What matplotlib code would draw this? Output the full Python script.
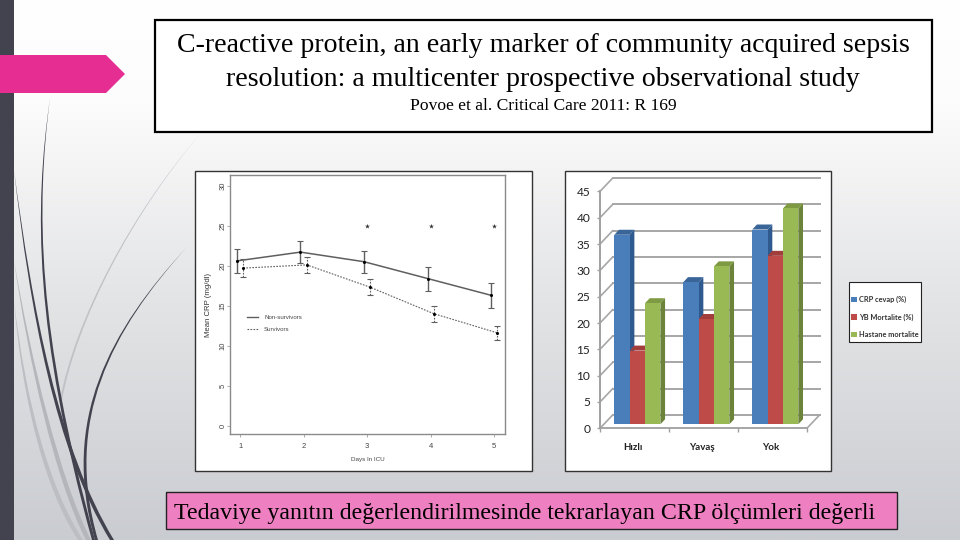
import numpy as np
import matplotlib
matplotlib.use('Agg')
import matplotlib.pyplot as plt
from matplotlib.patches import Rectangle, Polygon, PathPatch
from matplotlib.path import Path
from matplotlib.lines import Line2D

# line chart data
dias = [1, 2, 3, 4, 5]
non_survivors = [20.6, 21.7, 20.5, 18.4, 16.3]
non_survivors_err = [1.5, 1.4, 1.4, 1.5, 1.6]
survivors = [19.7, 20.1, 17.3, 14.0, 11.6]
survivors_err = [1.1, 1.0, 1.0, 1.0, 0.85]
star_days = [3, 4, 5]
star_level = [25, 25, 25]
crp_ticks = [0, 5, 10, 15, 20, 25, 30]

# bar chart data
grupos = ['Hızlı', 'Yavaş', 'Yok']
crp_cevap = [36, 27, 37]
yb_mortalite = [14, 20, 32]
hastane_mortalite = [23, 30, 41]
bar_ticks = [0, 5, 10, 15, 20, 25, 30, 35, 40, 45]

titulo = ['C-reactive protein, an early marker of community acquired sepsis',
          'resolution: a multicenter prospective observational study']
cita = 'Povoe et al. Critical Care 2011: R 169'
pie = 'Tedaviye yanıtın değerlendirilmesinde tekrarlayan CRP ölçümleri değerli'

W, H = 960, 540
SERIF = 'Liberation Serif'
SANS = 'Liberation Sans'
DARK = '#42434f'


def box(x0, y0, x1, y1):
    # pixel box (top-left origin) to figure fractions
    return [x0 / W, 1 - y1 / H, (x1 - x0) / W, (y1 - y0) / H]


def curva(ax, p0, c1, c2, p1, ancho, color):
    # tapered stroke: thin at p0, wider at p1
    verts = [p0, c1, c2, p1,
             (p1[0] + ancho, p1[1]), (c2[0] + ancho, c2[1]), (c1[0] + ancho * 0.6, c1[1]), p0, p0]
    codes = [Path.MOVETO, Path.CURVE4, Path.CURVE4, Path.CURVE4, Path.LINETO,
             Path.CURVE4, Path.CURVE4, Path.CURVE4, Path.CLOSEPOLY]
    ax.add_patch(PathPatch(Path(verts, codes), fc=color, ec='none', zorder=2))


fig = plt.figure(figsize=(9.6, 5.4), dpi=100)

# slide background
fondo = fig.add_axes([0, 0, 1, 1], zorder=0)
fondo.axis('off')
filas = np.linspace(0, H, 256)
degradado = np.stack([np.interp(filas, [0, 100, 200, 300, 540], [1.0, 0.99, 0.94, 0.89, 0.79]),
                      np.interp(filas, [0, 100, 200, 300, 540], [1.0, 0.99, 0.94, 0.895, 0.80]),
                      np.interp(filas, [0, 100, 200, 300, 540], [1.0, 0.99, 0.945, 0.90, 0.82])], axis=1)
fondo.imshow(degradado[:, None, :], extent=[0, W, H, 0], aspect='auto', zorder=0)
fondo.set_xlim(0, W)
fondo.set_ylim(H, 0)

curva(fondo, (14, 260), (28, 360), (55, 480), (86, 540), 5, '#b4b6bb')
curva(fondo, (14, 300), (22, 400), (45, 490), (78, 540), 5, '#bcbec3')
curva(fondo, (201, 133), (130, 215), (75, 320), (60, 400), 2, '#c0c2c6')
curva(fondo, (50, 98), (34, 210), (34, 330), (92, 540), 3, DARK)
curva(fondo, (14, 170), (30, 310), (55, 450), (110, 540), 4, DARK)
curva(fondo, (187, 247), (110, 330), (60, 420), (95, 540), 3, DARK)
fondo.add_patch(Rectangle((0, 0), 14, H, fc=DARK, ec='none', zorder=3))
fondo.add_patch(Polygon([(0, 55), (106, 55), (125, 74), (106, 93), (0, 93)], fc='#e52d92', ec='none', zorder=4))

# title box
fondo.add_patch(Rectangle((155, 20), 777, 112, fc='white', ec='black', lw=1.6, zorder=4))
fondo.text(543, 46, titulo[0], family=SERIF, fontsize=20.1, ha='center', va='center', color='black', zorder=5)
fondo.text(543, 80, titulo[1], family=SERIF, fontsize=20.1, ha='center', va='center', color='black', zorder=5)
fondo.text(543, 106, cita, family=SERIF, fontsize=12.6, ha='center', va='center', color='black', zorder=5)

# bottom box
fondo.add_patch(Rectangle((166, 492), 731, 37, fc='#ee80c2', ec='#222222', lw=1, zorder=4))
fondo.text(174, 513, pie, family=SERIF, fontsize=17.2, ha='left', va='center', color='black', zorder=5)

# frames of the two pictures and of the bar legend
fondo.add_patch(Rectangle((195, 171), 337, 300, fc='white', ec='#333333', lw=1, zorder=4))
fondo.add_patch(Rectangle((565, 171), 266, 300, fc='white', ec='#333333', lw=1, zorder=4))
fondo.add_patch(Rectangle((849, 282), 72, 60, fc='white', ec='#222222', lw=0.8, zorder=4))

# line chart
ax = fig.add_axes(box(230, 175, 505, 434), zorder=2)
ax.set_xlim(0.84, 5.17)
ax.set_ylim(-1.04, 31.34)
gris = '#5f5f5f'
x_non = np.array(dias) - 0.05
x_sur = np.array(dias) + 0.05
ax.errorbar(x_non, non_survivors, yerr=non_survivors_err, color=gris, lw=1.1, elinewidth=1.0,
            capsize=2.4, capthick=0.8, marker='o', ms=1.2, mfc='black', mec='black')
e = ax.errorbar(x_sur, survivors, yerr=survivors_err, color=gris, lw=0.8, ls=(0, (1.5, 1.2)), elinewidth=0.8,
                capsize=2.4, capthick=0.8, marker='o', ms=1.2, mfc='black', mec='black')
e[2][0].set_linestyle((0, (1.5, 1.2)))
ax.scatter(star_days, star_level, marker='*', s=14, color='#333333', lw=0)
for lado in ax.spines.values():
    lado.set_color('#8a8a8a')
    lado.set_linewidth(1.0)
ax.set_xticks(dias)
ax.set_yticks(crp_ticks)
ax.tick_params(axis='x', length=2, width=0.5, color='#888888', labelsize=5.5, labelcolor='#444444', pad=4.5)
ax.tick_params(axis='y', length=2, width=0.5, color='#888888', labelsize=5.5, labelcolor='#444444', pad=0.5, labelrotation=90)
for t in ax.get_yticklabels():
    t.set_va('center')
    t.set_family(SANS)
for t in ax.get_xticklabels():
    t.set_family(SANS)
ax.set_xlabel('Days In ICU', family=SANS, fontsize=4.5, color='#444444')
ax.xaxis.set_label_coords((368 - 230) / 275, -23 / 259)
ax.set_ylabel('Mean CRP (mg/dl)', family=SANS, fontsize=5.6, color='#333333')
ax.yaxis.set_label_coords((212 - 230) / 275, (434 - 305) / 259)
handles = [Line2D([], [], color=gris, lw=1.0), Line2D([], [], color=gris, lw=0.8, ls=(0, (1.5, 1.2)))]
ax.legend(handles, ['Non-survivors', 'Survivors'], frameon=False, prop={'family': SANS, 'size': 4.4},
          labelcolor='#444444', loc='upper left', bbox_to_anchor=((247 - 230) / 275, (434 - 315) / 259),
          handlelength=1.8, handletextpad=1.0, labelspacing=1.0, borderpad=0, borderaxespad=0)

# 3D style bar chart, y=0 sits on the front axis line
bx = fig.add_axes(box(600, 177.7, 820, 428.3), zorder=2)
bx.set_xlim(0, 3.19)
bx.set_ylim(0, 47.6)
bx.patch.set_alpha(0)
for lado in ['top', 'right', 'bottom']:
    bx.spines[lado].set_visible(False)
bx.spines['left'].set_color('#a0a0a0')
bx.spines['left'].set_linewidth(1.4)
bx.spines['left'].set_bounds(0, 45)

DX, DY = 0.184, 2.53     # depth of the chart floor
dx, dy = 0.068, 0.95     # depth of one bar
LIFT = 0.76              # bars stand a little behind the front axis
ancho = 0.2225
inicio = 0.208
linea = '#a6a6a6'

for v in bar_ticks:
    bx.plot([0, DX], [v, v + DY], color=linea, lw=1.2, clip_on=False, zorder=1)
    bx.plot([DX, 3.19], [v + DY, v + DY], color=linea, lw=1.4, clip_on=False, zorder=1)
bx.plot([0, 3], [0, 0], color=linea, lw=1.4, clip_on=False, zorder=1)
bx.plot([3, 3 + DX], [0, DY], color=linea, lw=1.2, clip_on=False, zorder=1)

series = [(crp_cevap, '#4a7ebb', '#2f5a90', '#3a6598'),
          (yb_mortalite, '#be4b48', '#8f3533', '#a13e3b'),
          (hastane_mortalite, '#98b954', '#6b8439', '#7e9a43')]
posiciones = np.arange(len(grupos))
for k, (valores, frente, lateral, tapa) in enumerate(series):
    xs = posiciones + inicio + k * ancho
    bx.bar(xs, valores, width=ancho, bottom=LIFT, align='edge', color=frente, lw=0, zorder=3 + k)
    for x, v in zip(xs, valores):
        top = v + LIFT
        bx.add_patch(Polygon([(x + ancho, LIFT), (x + ancho + dx, LIFT + dy), (x + ancho + dx, top + dy), (x + ancho, top)],
                             fc=lateral, ec='none', zorder=2 + k))
        bx.add_patch(Polygon([(x, top), (x + dx, top + dy), (x + ancho + dx, top + dy), (x + ancho, top)],
                             fc=tapa, ec='none', zorder=2 + k))

bx.set_yticks(bar_ticks)
bx.tick_params(axis='y', length=2.5, width=1, color='#a0a0a0', labelsize=8.6, labelcolor='#222222', pad=4.5)
bx.set_xticks([0, 1, 2, 3])
bx.set_xticklabels([])
bx.tick_params(axis='x', length=3, width=1, color='#a0a0a0')
for t in bx.get_yticklabels():
    t.set_family('Lato')
for i, g in enumerate(grupos):
    bx.text(i + 0.48, -3.7, g, family='Lato', fontsize=7, fontweight='bold', ha='center', va='center', color='#222222')

# bar chart legend, its frame is drawn with the slide
hs = [Rectangle((0, 0), 1, 1, fc=c[1]) for c in series]
leg = fig.legend(hs, ['CRP cevap (%)', 'YB Mortalite (%)', 'Hastane mortalite'], loc='upper left',
                 bbox_to_anchor=(851 / W, 1 - 296 / H), frameon=False,
                 prop={'family': 'Lato', 'size': 5.3, 'weight': 'bold'}, labelcolor='#333333',
                 handlelength=0.75, handleheight=0.75, handletextpad=0.3,
                 labelspacing=1.4, borderpad=0, borderaxespad=0)
leg.set_zorder(5)

fig.savefig('out.png', dpi=100)
plt.close(fig)
